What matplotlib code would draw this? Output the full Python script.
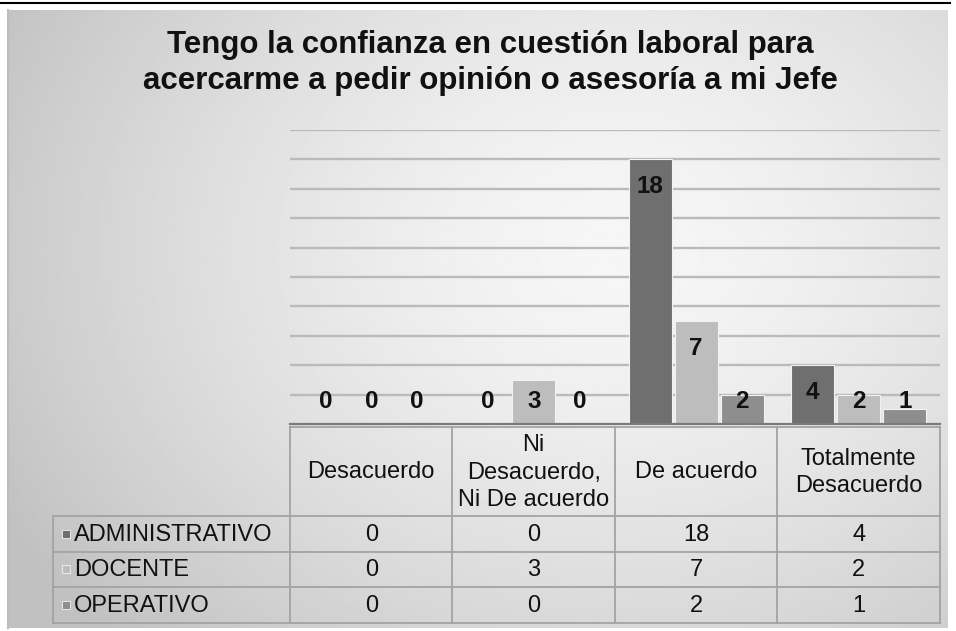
import numpy as np
import matplotlib
matplotlib.use("Agg")
import matplotlib.pyplot as plt
import matplotlib.patches as patches

plt.rcParams['font.family'] = ['Liberation Sans', 'DejaVu Sans']

title = "Tengo la confianza en cuestión laboral para\nacercarme a pedir opinión o asesoría a mi Jefe"
categories = ["Desacuerdo", "Ni\nDesacuerdo,\nNi De acuerdo", "De acuerdo", "Totalmente\nDesacuerdo"]
series = ["ADMINISTRATIVO", "DOCENTE", "OPERATIVO"]
administrativo = [0, 0, 18, 4]
docente = [0, 3, 7, 2]
operativo = [0, 0, 2, 1]
values = [administrativo, docente, operativo]
colors = ["#6f6f6f", "#bdbdbd", "#8e8e8e"]

W, H = 956, 631
fig = plt.figure(figsize=(W / 100, H / 100), dpi=100)

# background axes in pixel coords
bg = fig.add_axes([0, 0, 1, 1])
bg.set_xlim(0, W)
bg.set_ylim(H, 0)
bg.axis("off")

# chart area gradient
x0, x1, y0, y1 = 8, 948, 10, 628
xx, yy = np.meshgrid(np.linspace(x0, x1, 400), np.linspace(y0, y1, 300))
r = np.sqrt(((xx - 620) / 540) ** 2 + ((yy - 250) / 430) ** 2)
shade = 0.965 - 0.14 * np.clip(r, 0, 1.3) ** 1.5
bg.imshow(shade, cmap="gray", vmin=0, vmax=1, extent=(x0, x1, y1, y0),
          aspect="auto", zorder=0, interpolation="bilinear")
bg.plot([x0, x0], [y0, y1], color="#bdbdbd", lw=1.5, zorder=1)
bg.plot([0, 950], [2.5, 2.5], color="black", lw=1.5, zorder=2)

bg.text(490, 63, title, ha="center", va="center", fontsize=22.5,
        fontweight="bold", color="#111111", linespacing=1.28, zorder=3)

# plot area
px0, px1, py_top, py_base = 290, 940, 130, 424
ax = fig.add_axes([px0 / W, (H - py_base) / H, (px1 - px0) / W, (py_base - py_top) / H])
ax.patch.set_alpha(0)
ax.set_xlim(-0.5, len(categories) - 0.5)
ax.set_ylim(0, 20)
for s in ax.spines.values():
    s.set_visible(False)
ax.set_xticks([])
ax.set_yticks([])
for g in range(2, 21, 2):
    ax.axhline(g, color="#bababa", lw=1.7, zorder=1)
ax.axhline(0, color="#7a7a7a", lw=1.6, zorder=4, clip_on=False)

n = len(series)
step = 0.283
bw = 0.265
xs = np.arange(len(categories))
for i, (name, vals, c) in enumerate(zip(series, values, colors)):
    pos = xs + (i - (n - 1) / 2) * step
    ax.bar(pos, vals, width=bw, color=c, edgecolor="#f2f2f2", lw=0.8, zorder=3)
    for xp, v in zip(pos, vals):
        ly = max(v - 1.84, 1.56)
        ax.text(xp, ly, str(v), ha="center", va="center", fontsize=17.5,
                fontweight="bold", color="#111111", zorder=5)

# data table
col_w = (px1 - px0) / len(categories)
head_top, head_bot = 427, 516
row_h = 35.5
label_x0 = 53
line_c = "#a3a3a3"
tb_bot = head_bot + row_h * len(series)
fs = 17

for k in range(len(categories) + 1):
    xv = px0 + k * col_w
    bg.plot([xv, xv], [head_top, tb_bot], color=line_c, lw=1.3, zorder=3)
bg.plot([px0, px1], [head_top, head_top], color=line_c, lw=1.3, zorder=3)
bg.plot([label_x0, label_x0], [head_bot, tb_bot], color=line_c, lw=1.3, zorder=3)
for k in range(len(series) + 1):
    yh = head_bot + k * row_h
    bg.plot([label_x0, px1], [yh, yh], color=line_c, lw=1.3, zorder=3)

for k, cat in enumerate(categories):
    bg.text(px0 + (k + 0.5) * col_w, (head_top + head_bot) / 2 + 1, cat,
            ha="center", va="center", fontsize=fs, color="#111111",
            linespacing=1.3, zorder=4)

for j, (name, vals, c) in enumerate(zip(series, values, colors)):
    yc = head_bot + (j + 0.5) * row_h
    bg.add_patch(patches.Rectangle((62, yc - 4), 8, 8, facecolor=c,
                                   edgecolor="#f2f2f2", lw=0.6, zorder=4))
    bg.text(74, yc + 1, name, ha="left", va="center", fontsize=fs,
            color="#111111", zorder=4)
    for k, v in enumerate(vals):
        bg.text(px0 + (k + 0.5) * col_w, yc + 1, str(v), ha="center",
                va="center", fontsize=fs, color="#111111", zorder=4)

fig.savefig("out.png", dpi=100)
